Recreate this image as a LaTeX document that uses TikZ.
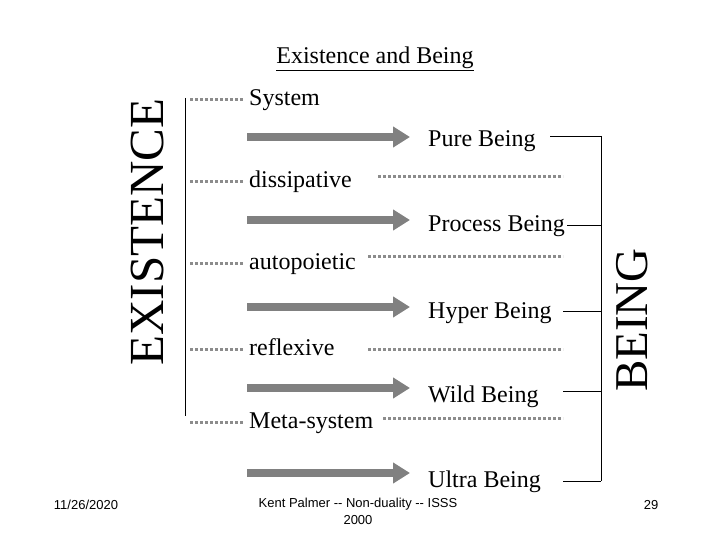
\documentclass[tikz,border=0pt]{standalone}
\usepackage{fontspec}
\setmainfont{Liberation Serif}
\newfontfamily\piefont{Liberation Sans}
\usepackage{tikz}
\usetikzlibrary{positioning,arrows.meta,calc}
\definecolor{grisflecha}{RGB}{128,128,128}
\definecolor{grispunto}{RGB}{140,140,140}

\begin{document}
\begin{tikzpicture}[x=1pt, y=-1pt,
  flecha/.style={-{Triangle[length=17pt, width=20pt]}, line width=8pt,
    grisflecha},
  punteado/.style={grispunto, line width=3pt, dash pattern=on 3pt off 2pt},
  etiqueta/.style={font=\fontsize{24}{28}\selectfont, inner sep=0pt,
    anchor=base west},
  grande/.style={font=\fontsize{47}{50}\selectfont, inner sep=0pt,
    rotate=90},
  corchete/.style={black, line width=0.9pt},
  pie/.style={font=\piefont\fontsize{13}{17}\selectfont, align=center,
    inner sep=0pt},
]
  \useasboundingbox (0,0) rectangle (720,540);
  % Título
  \node[font=\fontsize{24}{28}\selectfont, anchor=base, inner sep=0pt]
    (titulo) at (375,64) {\underline{Existence and Being}};
  % Existencia (izquierda)
  \node[etiqueta] (sistema) at (249,106) {System};
  \node[etiqueta] (disipativo) at (249,188) {dissipative};
  \node[etiqueta] (autopoietico) at (249,269) {autopoietic};
  \node[etiqueta] (reflexivo) at (249,355) {reflexive};
  \node[etiqueta] (metasistema) at (249,428) {Meta-system};
  \foreach \y/\n in {100/1, 182/2, 263/3, 349/4, 422/5} {
    \coordinate (pi\n) at (190,\y);
    \coordinate (pd\n) at (243,\y);
    \draw[punteado] (pi\n) -- (pd\n);
  }
  \coordinate (ex1) at (185,98);
  \coordinate (ex2) at (185,416);
  \draw[corchete] (ex1) -- (ex2);
  \node[grande, font=\fontsize{49}{52}\selectfont] (existencia)
    at (148,232) {EXISTENCE};
  % Puntos largos
  \foreach \xa/\y/\n in {378/177/1, 368/256/2, 368/349/3, 383/418/4} {
    \coordinate (la\n) at (\xa,\y);
    \coordinate (lb\n) at (563,\y);
    \draw[punteado] (la\n) -- (lb\n);
  }
  % Flechas
  \foreach \y/\n in {137/1, 220/2, 307/3, 388/4, 473/5} {
    \coordinate (fa\n) at (247,\y);
    \coordinate (fb\n) at (410,\y);
    \draw[flecha] (fa\n) -- (fb\n);
  }
  % Ser (derecha)
  \node[etiqueta] (puro) at (428,147) {Pure Being};
  \node[etiqueta] (proceso) at (428,232) {Process Being};
  \node[etiqueta] (hiper) at (428,318) {Hyper Being};
  \node[etiqueta] (salvaje) at (428,402) {Wild Being};
  \node[etiqueta] (ultra) at (428,487) {Ultra Being};
  \coordinate (brazo) at (601,0);
  \foreach \xa/\y/\n in {550/136/1, 567/225/2, 563/311/3, 563/391/4,
    563/481/5} {
    \coordinate (bi\n) at (\xa,\y);
    \draw[corchete] (bi\n) -- (bi\n -| brazo);
  }
  \draw[corchete] (bi1 -| brazo) -- (bi5 -| brazo);
  \node[grande] (ser) at (632,320) {BEING};
  % Pie
  \node[pie] (fecha) at (86,505) {11/26/2020};
  \node[pie, anchor=north] (autor) at (358,498)
    {Kent Palmer -- Non-duality -- ISSS\\2000};
  \node[pie] (pagina) at (651,505) {29};
\end{tikzpicture}
\end{document}
